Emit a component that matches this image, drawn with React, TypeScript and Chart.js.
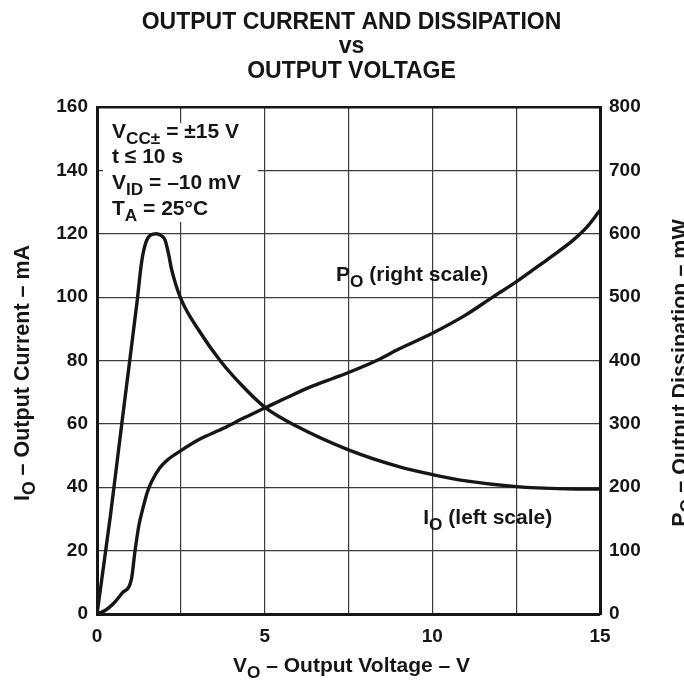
import React, { useEffect, useRef } from 'react';
import { Chart, registerables } from 'chart.js';

Chart.register(...registerables);

// I_O (left scale, mA) vs V_O (V)
const ioVoltage = [0, 0.4, 0.75, 1.0, 1.2, 1.33, 1.45, 1.6, 1.78, 1.93, 2.03, 2.13, 2.23, 2.5, 3.07, 3.67, 4.36, 5.0, 6.0, 7.5, 9.0, 10.0, 11.0, 12.5, 14.0, 15.0];
const ioCurrent = [0, 31, 61, 82, 99, 111, 117, 119.6, 120, 119.3, 118, 113.8, 108.5, 99.5, 89, 80, 71.7, 65.3, 59, 51.8, 46.5, 44, 42, 40.2, 39.5, 39.4];

// P_O (right scale, mW) vs V_O (V)
const poVoltage = [0, 0.25, 0.5, 0.75, 1.03, 1.13, 1.25, 1.38, 1.5, 1.63, 1.88, 2.1, 2.48, 3.07, 3.77, 4.4, 5.0, 5.6, 6.35, 7.05, 7.5, 8.34, 9.0, 10.0, 11.0, 11.8, 12.5, 13.0, 13.5, 14.2, 14.6, 15.0];
const poPower = [0, 6, 17, 33, 56, 98, 140, 169, 192, 209, 231, 243, 257, 276, 293, 310, 325, 340, 358, 372, 381, 400, 418, 443, 472, 500, 524, 543, 562, 590, 610, 637];

const xTickLabels = [0, 5, 10, 15];
const leftTicks = { min: 0, max: 160, step: 20 };
const rightTicks = { min: 0, max: 800, step: 100 };
const xRange = { min: 0, max: 15, step: 2.5 };

const titleLines = ['OUTPUT CURRENT AND DISSIPATION', 'vs', 'OUTPUT VOLTAGE'];

type Seg = { t: string; sub?: boolean };

const conditions: Seg[][] = [
  [{ t: 'V' }, { t: 'CC±', sub: true }, { t: ' = ±15 V' }],
  [{ t: 't ≤ 10 s' }],
  [{ t: 'V' }, { t: 'ID', sub: true }, { t: ' = –10 mV' }],
  [{ t: 'T' }, { t: 'A', sub: true }, { t: ' = 25°C' }],
];
const xTitle: Seg[] = [{ t: 'V' }, { t: 'O', sub: true }, { t: ' – Output Voltage – V' }];
const yTitle: Seg[] = [{ t: 'I' }, { t: 'O', sub: true }, { t: ' – Output Current – mA' }];
const y2Title: Seg[] = [{ t: 'P' }, { t: 'O', sub: true }, { t: ' – Output Dissipation – mW' }];
const poLabel: Seg[] = [{ t: 'P' }, { t: 'O', sub: true }, { t: ' (right scale)' }];
const ioLabel: Seg[] = [{ t: 'I' }, { t: 'O', sub: true }, { t: ' (left scale)' }];

const FAMILY = "'Liberation Sans', Arial, Helvetica, sans-serif";
const INK = '#161616';
const GRID = '#3c3c3c';

function font(size: number) {
  return `bold ${size}px ${FAMILY}`;
}

function richWidth(ctx: CanvasRenderingContext2D, segs: Seg[], size: number) {
  let w = 0;
  for (const s of segs) {
    ctx.font = font(s.sub ? size * 0.82 : size);
    w += ctx.measureText(s.t).width;
  }
  return w;
}

function drawRich(
  ctx: CanvasRenderingContext2D,
  segs: Seg[],
  x: number,
  y: number,
  size: number,
  align: 'left' | 'center'
) {
  const total = richWidth(ctx, segs, size);
  let cx = align === 'center' ? x - total / 2 : x;
  ctx.textAlign = 'left';
  ctx.textBaseline = 'alphabetic';
  for (const s of segs) {
    const sz = s.sub ? size * 0.82 : size;
    ctx.font = font(sz);
    ctx.fillText(s.t, cx, s.sub ? y + size * 0.3 : y);
    cx += ctx.measureText(s.t).width;
  }
}

const decor = {
  id: 'decor',
  beforeDatasetsDraw(chart: any) {
    const { ctx, chartArea: a } = chart;
    ctx.save();
    ctx.fillStyle = '#ffffff';
    ctx.fillRect(a.left + 6, a.top + 16, 155, 99);
    ctx.fillStyle = INK;
    const baselines = [31, 56, 82, 108];
    conditions.forEach((line, i) => {
      drawRich(ctx, line, a.left + 15, a.top + baselines[i], 21, 'left');
    });
    ctx.restore();
  },
  afterDraw(chart: any) {
    const { ctx, chartArea: a, scales } = chart;
    ctx.save();
    ctx.fillStyle = INK;
    const midX = (a.left + a.right) / 2 + 3;
    // Title
    ctx.font = font(23);
    ctx.textAlign = 'center';
    ctx.textBaseline = 'alphabetic';
    const tb = [29, 53, 78];
    titleLines.forEach((t, i) => ctx.fillText(t, midX, tb[i]));
    // X axis title
    drawRich(ctx, xTitle, midX, a.bottom + 58, 21, 'center');
    // Left axis title
    const midY = 373;
    ctx.save();
    ctx.translate(29, midY);
    ctx.rotate(-Math.PI / 2);
    drawRich(ctx, yTitle, 0, 0, 21.5, 'center');
    ctx.restore();
    // Right axis title
    ctx.save();
    ctx.translate(687, midY);
    ctx.rotate(-Math.PI / 2);
    drawRich(ctx, y2Title, 0, 0, 21.5, 'center');
    ctx.restore();
    // Curve labels
    const px = scales.x.getPixelForValue(7.13);
    const py = scales.y2.getPixelForValue(538);
    drawRich(ctx, poLabel, px, py + 8, 21, 'left');
    const ix = scales.x.getPixelForValue(9.73);
    const iy = scales.y.getPixelForValue(30.6);
    drawRich(ctx, ioLabel, ix, iy + 7, 21, 'left');
    ctx.restore();
  },
};

export default function App() {
  const ref = useRef<HTMLCanvasElement | null>(null);

  useEffect(() => {
    document.body.style.margin = '0';
    document.body.style.overflow = 'hidden';
    const canvas = ref.current;
    if (!canvas) return;
    const ioData = ioVoltage.map((v, i) => ({ x: v, y: ioCurrent[i] }));
    const poData = poVoltage.map((v, i) => ({ x: v, y: poPower[i] }));

    const tickFont = { family: FAMILY, size: 19, weight: 'bold' as const };

    const chart = new Chart(canvas, {
      type: 'line',
      data: {
        datasets: [
          {
            label: 'IO (left scale)',
            data: ioData,
            yAxisID: 'y',
            borderColor: INK,
            borderWidth: 3.4,
            pointRadius: 0,
            cubicInterpolationMode: 'monotone',
            fill: false,
          },
          {
            label: 'PO (right scale)',
            data: poData,
            yAxisID: 'y2',
            borderColor: INK,
            borderWidth: 3.4,
            pointRadius: 0,
            cubicInterpolationMode: 'monotone',
            fill: false,
          },
        ],
      },
      options: {
        animation: false,
        responsive: false,
        devicePixelRatio: 1,
        layout: { padding: { top: 107, left: 0, right: 0, bottom: 0 } },
        plugins: {
          legend: { display: false },
          tooltip: { enabled: false },
          title: { display: false },
        },
        scales: {
          x: {
            type: 'linear',
            min: xRange.min,
            max: xRange.max,
            afterFit: (s: any) => {
              s.height = 67;
            },
            ticks: {
              stepSize: xRange.step,
              autoSkip: false,
              maxRotation: 0,
              padding: 11,
              color: INK,
              font: tickFont,
              callback: (v: any) => (xTickLabels.includes(Number(v)) ? String(v) : ''),
            },
            grid: { color: GRID, lineWidth: 1.2, drawTicks: false },
            border: { display: true, color: INK, width: 3 },
          },
          y: {
            type: 'linear',
            position: 'left',
            min: leftTicks.min,
            max: leftTicks.max,
            afterFit: (s: any) => {
              s.width = 97;
            },
            ticks: {
              stepSize: leftTicks.step,
              padding: 9,
              color: INK,
              font: tickFont,
            },
            grid: {
              color: (c: any) => (c.tick && c.tick.value === leftTicks.max ? INK : GRID),
              lineWidth: (c: any) => (c.tick && c.tick.value === leftTicks.max ? 2.5 : 1.2),
              drawTicks: false,
            },
            border: { display: true, color: INK, width: 3 },
          },
          y2: {
            type: 'linear',
            position: 'right',
            min: rightTicks.min,
            max: rightTicks.max,
            afterFit: (s: any) => {
              s.width = 84;
            },
            ticks: {
              stepSize: rightTicks.step,
              padding: 9,
              color: INK,
              font: tickFont,
            },
            grid: { display: false, drawTicks: false },
            border: { display: true, color: INK, width: 3 },
          },
        },
      },
      plugins: [decor],
    } as any);

    return () => chart.destroy();
  }, []);

  return <canvas ref={ref} width={684} height={681} style={{ display: 'block' }} />;
}
